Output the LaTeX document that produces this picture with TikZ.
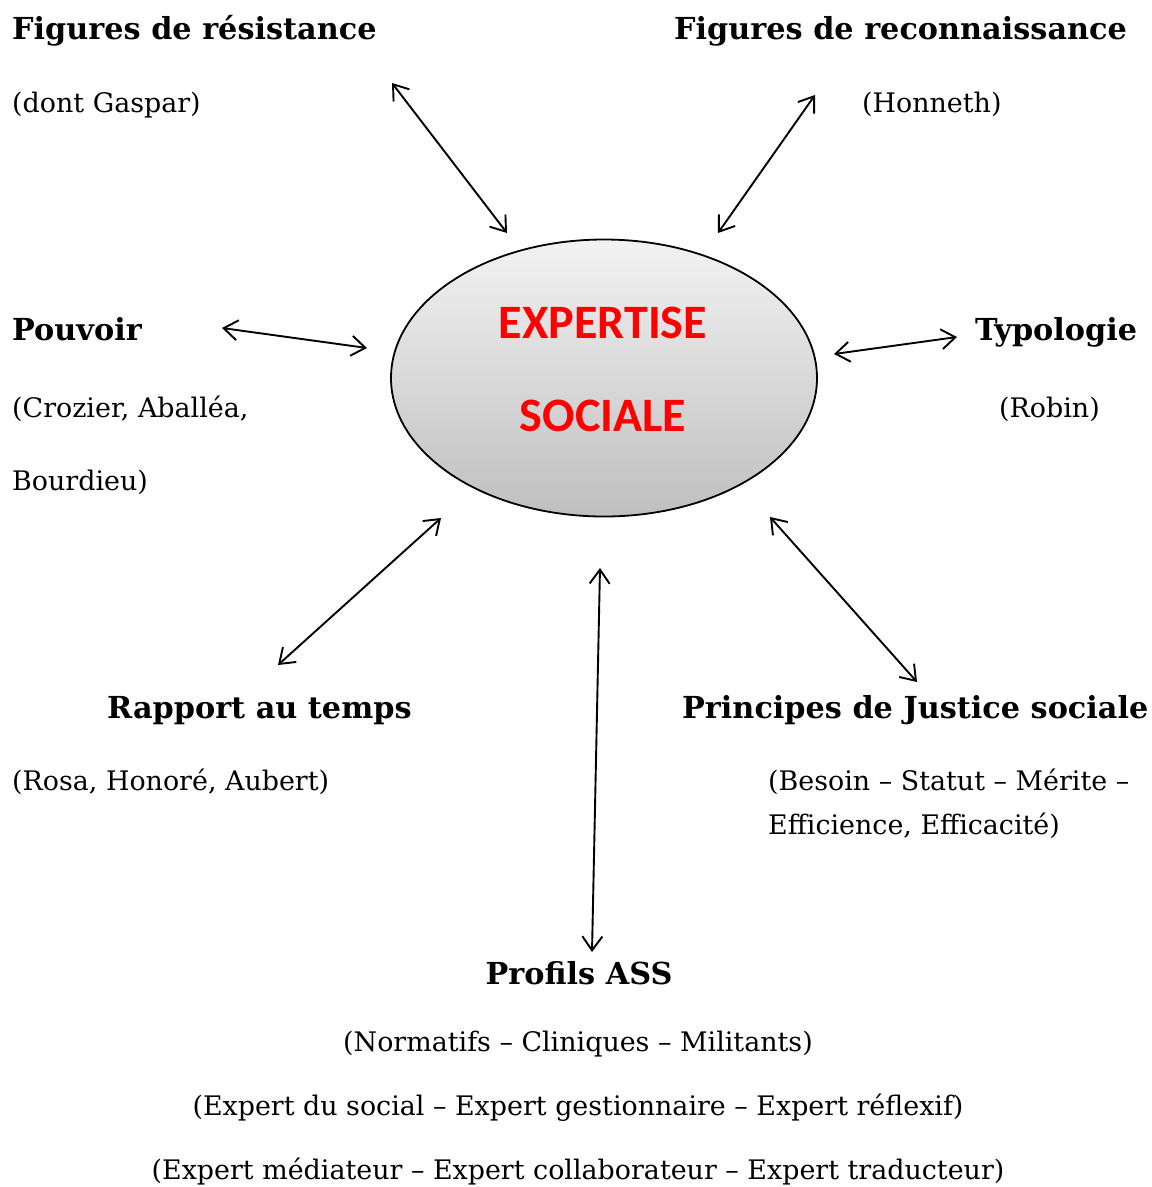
\documentclass[tikz,border=0pt]{standalone}
\usepackage{fontspec}
\setmainfont{DejaVu Serif}
\newfontfamily\calib{Carlito}
\usetikzlibrary{shapes.geometric,arrows.meta}

\tikzset{
  titre/.style={anchor=base west, inner sep=0pt, font=\fontsize{30.3}{34}\selectfont\bfseries},
  ref/.style={anchor=base west, inner sep=0pt, font=\fontsize{26.9}{30}\selectfont},
  lien/.style={<->, line width=1.9pt},
}

\begin{document}
\begin{tikzpicture}[x=1pt, y=-1pt, >={Straight Barb[length=14pt,width=20pt]}]
	\useasboundingbox (0,0) rectangle (1152,1187);
	% centre
	\node[ellipse, draw, line width=1.8pt, minimum width=426pt, minimum height=277pt,
	      top color=gray!10, bottom color=gray!50] (centre) at (604,378) {};
	\node[anchor=base, text=red, font=\calib\fontsize{48}{52}\selectfont\bfseries] (expertise) at (603,338) {EXPERTISE};
	\node[anchor=base, text=red, font=\calib\fontsize{48}{52}\selectfont\bfseries] (sociale) at (603,431) {SOCIALE};
	% branches
	\node[titre] (resistance) at (12,39) {Figures de résistance};
	\node[ref] (gaspar) at (12,112) {(dont Gaspar)};
	\node[titre] (reconnaissance) at (674,39) {Figures de reconnaissance};
	\node[ref] (honneth) at (862,112) {(Honneth)};
	\node[titre] (pouvoir) at (12,340) {Pouvoir};
	\node[ref] (crozier) at (12,417) {(Crozier, Aballéa,};
	\node[ref] (bourdieu) at (12,490) {Bourdieu)};
	\node[titre] (typologie) at (975,340) {Typologie};
	\node[ref] (robin) at (999,417) {(Robin)};
	\node[titre] (temps) at (107,718) {Rapport au temps};
	\node[ref] (rosa) at (12,790) {(Rosa, Honoré, Aubert)};
	\node[titre] (justice) at (682,718) {Principes de Justice sociale};
	\node[ref] (besoin) at (768,790) {(Besoin – Statut – Mérite –};
	\node[ref] (efficience) at (768,834) {Efficience, Efficacité)};
	\node[titre, anchor=base] (profils) at (579,984) {Profils ASS};
	\node[ref, anchor=base] (normatifs) at (578,1051) {(Normatifs – Cliniques – Militants)};
	\node[ref, anchor=base] (social) at (578,1115) {(Expert du social – Expert gestionnaire – Expert réflexif)};
	\node[ref, anchor=base] (mediateur) at (578,1179) {(Expert médiateur – Expert collaborateur – Expert traducteur)};
	% bouts des fleches
	\coordinate (a1) at (392,83);  \coordinate (b1) at (507,233);
	\coordinate (a2) at (815,95);  \coordinate (b2) at (718,233);
	\coordinate (a3) at (222,328); \coordinate (b3) at (367,348);
	\coordinate (a4) at (957,337); \coordinate (b4) at (834,354);
	\coordinate (a5) at (278,665); \coordinate (b5) at (441,518);
	\coordinate (a6) at (592,952); \coordinate (b6) at (600,568);
	\coordinate (a7) at (917,682); \coordinate (b7) at (770,517);
	\foreach \i in {1,...,7}
		\draw[lien] (a\i) -- (b\i);
\end{tikzpicture}
\end{document}
